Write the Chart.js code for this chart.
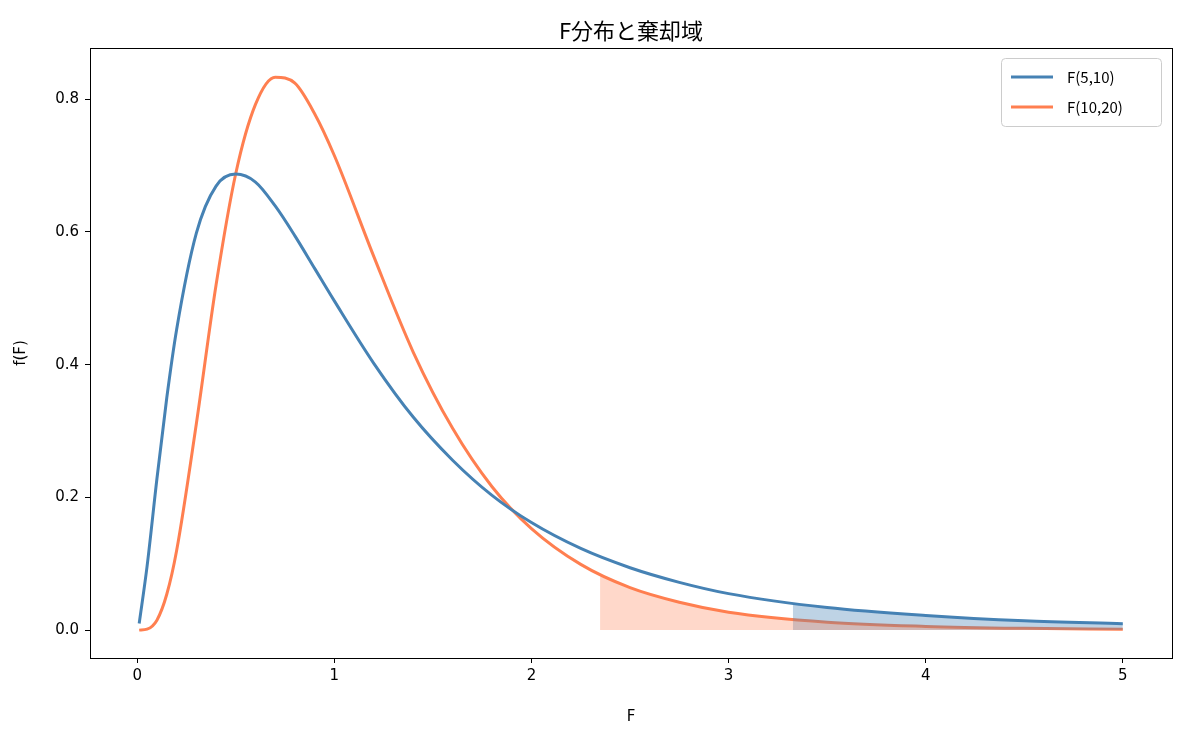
<!DOCTYPE html>
<html>
<head>
<meta charset="utf-8">
<script src="https://cdn.jsdelivr.net/npm/chart.js@4.4.0/dist/chart.umd.min.js"></script>
<style>
  body { margin: 0; background: #fff; }
  #wrap { width: 1185px; height: 736px; }
</style>
</head>
<body>
<div id="wrap"><canvas id="myChart" width="1185" height="736"></canvas></div>
<script>
// values
const xs = [0.01, 0.05, 0.1, 0.15, 0.2, 0.3, 0.4, 0.5, 0.6, 0.7, 0.8, 0.9, 1.0, 1.2, 1.4, 1.6, 1.8, 2.0, 2.25, 2.5, 2.75, 3.0, 3.5, 4.0, 4.5, 5.0];
const f5_10 = [0.010, 0.096, 0.228, 0.350, 0.453, 0.598, 0.669, 0.687, 0.675, 0.639, 0.594, 0.545, 0.496, 0.402, 0.321, 0.256, 0.203, 0.162, 0.123, 0.094, 0.072, 0.055, 0.034, 0.022, 0.014, 0.0096];
const f10_20 = [0.0, 0.0014, 0.015, 0.054, 0.120, 0.311, 0.520, 0.688, 0.792, 0.833, 0.824, 0.778, 0.715, 0.563, 0.419, 0.304, 0.216, 0.153, 0.099, 0.064, 0.042, 0.027, 0.012, 0.0056, 0.0027, 0.0014];

// rejection region start points
const crit5_10 = { x: 3.326, y: 0.040 };
const crit10_20 = { x: 2.348, y: 0.081 };

const seriesLabels = ['F(5,10)', 'F(10,20)'];
const xTicks = [0, 1, 2, 3, 4, 5];
const yTicks = [0, 0.2, 0.4, 0.6, 0.8];

function pts(ys) {
    return xs.map((x, i) => ({ x: x, y: ys[i] }));
}
function tail(ys, crit) {
    const p = [crit];
    xs.forEach((x, i) => { if (x > crit.x) p.push({ x: x, y: ys[i] }); });
    return p;
}

const frameAndText = {
    id: 'frameAndText',
    afterDraw(chart) {
        const { ctx, chartArea: { left, right, top, bottom } } = chart;
        ctx.save();
        ctx.strokeStyle = '#000';
        ctx.lineWidth = 1;
        ctx.strokeRect(left + 0.5, top + 0.5, right - left, bottom - top);

        ctx.fillStyle = '#000';
        ctx.font = '22px "Noto Sans CJK JP"';
        ctx.textAlign = 'center';
        ctx.textBaseline = 'bottom';
        ctx.fillText('F分布と棄却域', (left + right) / 2, top - 6);

        // legend
        const bx = right - 171, by = top + 10, bw = 160, bh = 68;
        ctx.fillStyle = 'rgba(255,255,255,0.8)';
        ctx.strokeStyle = '#ccc';
        ctx.beginPath();
        ctx.roundRect(bx + 0.5, by + 0.5, bw, bh, 4);
        ctx.fill();
        ctx.stroke();
        const cols = ['#4682b4', '#ff7f50'];
        ctx.font = '15px "Noto Sans CJK JP"';
        ctx.textAlign = 'left';
        ctx.textBaseline = 'middle';
        seriesLabels.forEach((lab, i) => {
            const yy = by + 19 + i * 30;
            ctx.strokeStyle = cols[i];
            ctx.lineWidth = 3;
            ctx.beginPath();
            ctx.moveTo(bx + 10, yy);
            ctx.lineTo(bx + 52, yy);
            ctx.stroke();
            ctx.fillStyle = '#000';
            ctx.fillText(lab, bx + 66, yy);
        });
        ctx.restore();
    }
};

const ctx = document.getElementById('myChart').getContext('2d');
const myChart = new Chart(ctx, {
    type: 'line',
    data: {
        datasets: [
            { label: 'fill2', data: tail(f10_20, crit10_20), borderWidth: 0, pointRadius: 0,
              backgroundColor: 'rgba(255,127,80,0.3)', fill: 'origin', cubicInterpolationMode: 'monotone' },
            { label: 'fill1', data: tail(f5_10, crit5_10), borderWidth: 0, pointRadius: 0,
              backgroundColor: 'rgba(70,130,180,0.35)', fill: 'origin', cubicInterpolationMode: 'monotone' },
            { label: seriesLabels[0], data: pts(f5_10), borderColor: '#4682b4', borderWidth: 3,
              pointRadius: 0, fill: false, cubicInterpolationMode: 'monotone' },
            { label: seriesLabels[1], data: pts(f10_20), borderColor: '#ff7f50', borderWidth: 3,
              pointRadius: 0, fill: false, cubicInterpolationMode: 'monotone' }
        ]
    },
    options: {
        responsive: false,
        animation: false,
        devicePixelRatio: 1,
        layout: { padding: { left: 8, right: 13, top: 48, bottom: 6 } },
        plugins: { legend: { display: false }, tooltip: { enabled: false } },
        scales: {
            x: {
                type: 'linear', min: -0.2395, max: 5.2495,
                afterBuildTicks: (s) => { s.ticks = xTicks.map(v => ({ value: v })); },
                afterFit: (s) => { s.height = 72; },
                grid: { drawOnChartArea: false, drawTicks: true, tickLength: 5, color: '#000' },
                border: { display: false },
                ticks: { color: '#000', font: { size: 15, family: 'DejaVu Sans' }, padding: 4, maxRotation: 0 },
                title: { display: true, text: 'F', color: '#000', font: { size: 15, family: 'DejaVu Sans' }, padding: { top: 6 } }
            },
            y: {
                min: -0.042, max: 0.877,
                afterBuildTicks: (s) => { s.ticks = yTicks.map(v => ({ value: v })); },
                afterFit: (s) => { s.width = 82; },
                grid: { drawOnChartArea: false, drawTicks: true, tickLength: 5, color: '#000' },
                border: { display: false },
                ticks: { color: '#000', font: { size: 15, family: 'DejaVu Sans' }, padding: 6,
                         callback: (v) => v.toFixed(1) },
                title: { display: true, text: 'f(F)', color: '#000', font: { size: 15, family: 'DejaVu Sans' } }
            }
        }
    },
    plugins: [frameAndText]
});
</script>
</body>
</html>
